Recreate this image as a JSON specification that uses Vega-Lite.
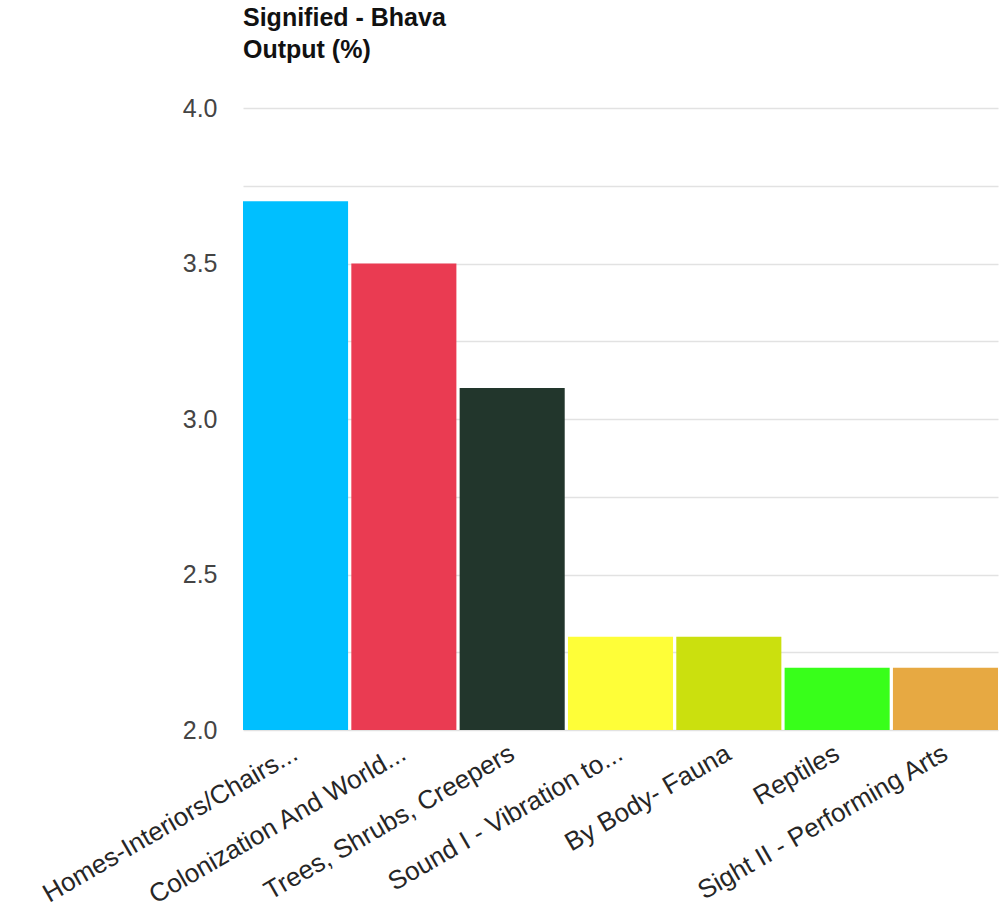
{
  "$schema": "https://vega.github.io/schema/vega-lite/v6.json",
  "autosize": {"type": "none"},
  "width": 755,
  "height": 622,
  "padding": {"left": 243, "top": 108, "right": 6, "bottom": 188},
  "background": "white",
  "title": {
    "text": ["Signified - Bhava", "Output (%)"],
    "anchor": "start",
    "frame": "group",
    "orient": "top",
    "offset": 33,
    "font": "Liberation Sans",
    "fontSize": 25,
    "fontWeight": "bold",
    "color": "#111111",
    "lineHeight": 32
  },
  "config": {"view": {"stroke": null}},
  "data": {
    "values": [
      {"topic": "Homes-Interiors/Chairs...", "value": 3.7, "color": "#00BFFF"},
      {"topic": "Colonization And World...", "value": 3.5, "color": "#EA3B52"},
      {"topic": "Trees, Shrubs, Creepers", "value": 3.1, "color": "#22362C"},
      {"topic": "Sound I - Vibration to...", "value": 2.3, "color": "#FEFE38"},
      {"topic": "By Body- Fauna", "value": 2.3, "color": "#CBE00E"},
      {"topic": "Reptiles", "value": 2.2, "color": "#38FF1A"},
      {"topic": "Sight II - Performing Arts", "value": 2.2, "color": "#E7A942"}
    ]
  },
  "mark": {"type": "bar"},
  "encoding": {
    "x": {
      "field": "topic",
      "type": "nominal",
      "sort": null,
      "scale": {"paddingInner": 0.03, "paddingOuter": 0},
      "axis": {
        "title": null,
        "labelAngle": -30,
        "labelAlign": "right",
        "labelBaseline": "middle",
        "labelPadding": 21,
        "labelLimit": 0,
        "labelFont": "Liberation Sans",
        "labelFontSize": 26,
        "labelColor": "#262626",
        "domain": false,
        "ticks": false,
        "grid": false
      }
    },
    "y": {
      "field": "value",
      "type": "quantitative",
      "scale": {"domain": [2, 4], "zero": false, "nice": false},
      "axis": {
        "title": null,
        "values": [2, 2.25, 2.5, 2.75, 3, 3.25, 3.5, 3.75, 4],
        "labelExpr": "(datum.value * 2) % 1 == 0 ? format(datum.value, '.1f') : ''",
        "labelFont": "Liberation Sans",
        "labelFontSize": 25,
        "labelColor": "#444444",
        "labelPadding": 26,
        "domain": false,
        "ticks": false,
        "grid": true,
        "gridColor": "#e2e2e2",
        "gridWidth": 1.5
      }
    },
    "y2": {"datum": 2},
    "color": {"field": "color", "type": "nominal", "scale": null, "legend": null}
  }
}
